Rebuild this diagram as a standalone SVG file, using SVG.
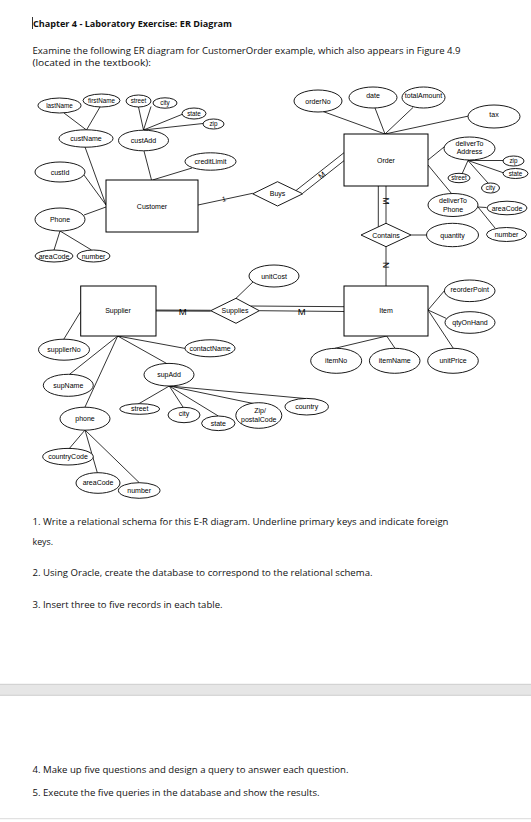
<svg xmlns="http://www.w3.org/2000/svg" width="531" height="822" viewBox="0 0 531 822">
<style>
.bg{fill:#ffffff}
.e{fill:#ffffff;stroke:#000;stroke-width:0.9}
.r{fill:#ffffff;stroke:#000;stroke-width:1}
.d{fill:#ffffff;stroke:#000;stroke-width:0.9}
.c line,.c polyline{stroke:#000;stroke-width:0.8;fill:none}
.t{font-family:"Liberation Sans",Arial,sans-serif;font-size:7px;fill:#000;text-anchor:middle}
.s{font-size:6.3px}
.m{font-family:"Liberation Sans",Arial,sans-serif;font-size:9.5px;fill:#000;text-anchor:middle}
.p{font-family:"Open Sans","Noto Sans",sans-serif;font-size:9.3px;fill:#111}
.h{font-weight:bold}
</style>
<rect class="bg" x="0" y="0" width="531" height="822"/>

<g id="page-text">
<line x1="32.5" y1="17" x2="32.5" y2="29" stroke="#000" stroke-width="0.8"/>
<text class="p h" x="33" y="26.5" textLength="199" lengthAdjust="spacingAndGlyphs">Chapter 4 - Laboratory Exercise: ER Diagram</text>
<text class="p" x="32.5" y="54" textLength="428" lengthAdjust="spacingAndGlyphs">Examine the following ER diagram for CustomerOrder example, which also appears in Figure 4.9</text>
<text class="p" x="32.5" y="66" textLength="118.5" lengthAdjust="spacingAndGlyphs">(located in the textbook):</text>
<text class="p" x="32.5" y="525" textLength="416" lengthAdjust="spacingAndGlyphs">1. Write a relational schema for this E-R diagram. Underline primary keys and indicate foreign</text>
<text class="p" x="32.5" y="545" textLength="20.5" lengthAdjust="spacingAndGlyphs">keys.</text>
<text class="p" x="32.5" y="576" textLength="340" lengthAdjust="spacingAndGlyphs">2. Using Oracle, create the database to correspond to the relational schema.</text>
<text class="p" x="32.5" y="608.3" textLength="190" lengthAdjust="spacingAndGlyphs">3. Insert three to five records in each table.</text>
<rect x="0" y="684.3" width="531" height="11" fill="#e6e6e6"/>
<line x1="0" y1="684.3" x2="531" y2="684.3" stroke="#c4c4c4" stroke-width="0.8"/>
<line x1="0" y1="695.3" x2="531" y2="695.3" stroke="#c4c4c4" stroke-width="0.8"/>
<text class="p" x="32.5" y="772.7" textLength="316" lengthAdjust="spacingAndGlyphs">4. Make up five questions and design a query to answer each question.</text>
<text class="p" x="32.5" y="796" textLength="287" lengthAdjust="spacingAndGlyphs">5. Execute the five queries in the database and show the results.</text>
<line x1="0" y1="818.7" x2="531" y2="818.7" stroke="#cfcfcf" stroke-width="0.8"/>
</g>

<g id="connectors" class="c">
<!-- Customer -->
<line x1="64" y1="113" x2="86.5" y2="130"/>
<line x1="100" y1="107" x2="86.5" y2="130"/>
<line x1="143.5" y1="130" x2="138.5" y2="107"/>
<line x1="143.5" y1="130" x2="151" y2="106.5"/>
<line x1="143.5" y1="130" x2="183" y2="114"/>
<line x1="143.5" y1="130" x2="203" y2="123.5"/>
<line x1="85" y1="147" x2="106" y2="205"/>
<line x1="84" y1="175" x2="106" y2="205"/>
<line x1="84" y1="215" x2="106" y2="207"/>
<line x1="60" y1="231" x2="54" y2="250"/>
<line x1="60" y1="231" x2="91.5" y2="250"/>
<line x1="144" y1="151" x2="151.5" y2="180"/>
<line x1="192" y1="168" x2="152.5" y2="180"/>
<!-- Customer - Buys -->
<line x1="198" y1="205" x2="252.7" y2="193.3"/>
<!-- Buys - Order (double) -->
<line x1="296" y1="190.5" x2="344" y2="152.7"/>
<line x1="302.7" y1="193.3" x2="344" y2="160.7"/>
<!-- Order attributes -->
<line x1="323" y1="111.5" x2="385" y2="134"/>
<line x1="375" y1="108" x2="385" y2="134"/>
<line x1="413" y1="107.5" x2="385" y2="134"/>
<line x1="471" y1="115.5" x2="385" y2="134"/>
<line x1="428" y1="160" x2="446.5" y2="145"/>
<line x1="468" y1="160.5" x2="503.5" y2="160.5"/>
<line x1="468" y1="160.5" x2="504" y2="173"/>
<line x1="468" y1="160.5" x2="462" y2="174"/>
<line x1="468" y1="160.5" x2="488" y2="183"/>
<line x1="428" y1="165" x2="451.5" y2="193.5"/>
<line x1="478" y1="207" x2="486.5" y2="207.5"/>
<line x1="478" y1="207" x2="495" y2="228"/>
<!-- Order - Contains (double) -->
<line x1="378.3" y1="186" x2="378.3" y2="227"/>
<line x1="386" y1="186" x2="386" y2="223.3"/>
<line x1="411" y1="235" x2="426.7" y2="235"/>
<!-- Contains - Item -->
<line x1="386" y1="246.7" x2="386" y2="286"/>
<!-- Item attributes -->
<line x1="428" y1="310" x2="445" y2="290"/>
<line x1="428" y1="310" x2="446.5" y2="318.5"/>
<line x1="428" y1="310" x2="453.3" y2="348.3"/>
<line x1="386.7" y1="336" x2="335" y2="348.3"/>
<line x1="386.7" y1="336" x2="395" y2="348.3"/>
<!-- Supplies -->
<line x1="236" y1="298.3" x2="255" y2="280"/>
<line x1="250.5" y1="306" x2="344" y2="306.7"/>
<line x1="259.3" y1="310.7" x2="344" y2="311.5"/>
<line x1="156" y1="310.5" x2="210.7" y2="310.7" style="stroke:#444;stroke-width:2"/>
<!-- Supplier attributes -->
<line x1="63.3" y1="340" x2="80.7" y2="311.5"/>
<line x1="117.7" y1="336" x2="69.3" y2="374.5"/>
<line x1="117.7" y1="336" x2="85" y2="407"/>
<line x1="117.7" y1="336" x2="166.7" y2="363.5"/>
<line x1="117.7" y1="336" x2="185.5" y2="348.5"/>
<line x1="169.3" y1="386" x2="138.3" y2="404"/>
<line x1="169.3" y1="386" x2="183.3" y2="407.5"/>
<line x1="169.3" y1="386" x2="218.3" y2="416"/>
<line x1="169.3" y1="386" x2="253.3" y2="403.5"/>
<line x1="169.3" y1="386" x2="305" y2="398.5"/>
<line x1="85" y1="430" x2="69.3" y2="448.5"/>
<line x1="85" y1="430" x2="97.3" y2="472.7"/>
<line x1="85" y1="430" x2="139.3" y2="482.7"/>
</g>

<g id="cardinalities">
<text class="t" x="224" y="201.5" transform="rotate(-12 224 199)">1</text>
<text class="t" x="322" y="178" transform="rotate(-38 322 175.5)" style="font-size:8px">M</text>
<text class="t" x="386" y="204" transform="rotate(90 386 201)" style="font-size:8.5px">M</text>
<text class="t" x="386" y="268" transform="rotate(90 386 265)" style="font-size:8.5px">N</text>
<text class="m" x="182.7" y="314.5">M</text>
<text class="m" x="301.7" y="314.5">M</text>
</g>

<g id="Customer"><rect class="r" x="106" y="180" width="92" height="52"/><text class="t" x="152" y="208.5">Customer</text></g>
<g id="lastName"><ellipse class="e" cx="59.5" cy="105.5" rx="21.5" ry="7.5"/><text class="t s" x="59.5" y="108">lastName</text></g>
<g id="firstName"><ellipse class="e" cx="101.5" cy="100.5" rx="18.5" ry="6.5"/><text class="t s" x="101.5" y="103">firstName</text></g>
<g id="custAdd-street"><ellipse class="e" cx="138.5" cy="101" rx="12.5" ry="6"/><text class="t s" x="138.5" y="103.3">street</text></g>
<g id="custAdd-city"><ellipse class="e" cx="165" cy="103" rx="12" ry="5.2"/><text class="t s" x="165" y="105.3">city</text></g>
<g id="custAdd-state"><ellipse class="e" cx="194" cy="113.5" rx="12" ry="5.5"/><text class="t s" x="194" y="115.8">state</text></g>
<g id="custAdd-zip"><ellipse class="e" cx="213.5" cy="124" rx="10.5" ry="5"/><text class="t s" x="213.5" y="126.3">zip</text></g>
<g id="custName"><ellipse class="e" cx="86" cy="138.5" rx="27" ry="8.7"/><text class="t" x="86" y="141">custName</text></g>
<g id="custAdd"><ellipse class="e" cx="143.5" cy="140.5" rx="25" ry="10.3"/><text class="t" x="143.5" y="143">custAdd</text></g>
<g id="creditLimit"><ellipse class="e" cx="210.5" cy="161.5" rx="25.5" ry="8.7"/><text class="t" x="210.5" y="164">creditLimit</text></g>
<g id="custId"><ellipse class="e" cx="60" cy="172" rx="25" ry="10"/><text class="t" x="60" y="174.5">custId</text></g>
<g id="Phone"><ellipse class="e" cx="60" cy="219.5" rx="25" ry="11.5"/><text class="t" x="60" y="222">Phone</text></g>
<g id="Phone-areaCode"><ellipse class="e" cx="54" cy="256" rx="19" ry="6"/><text class="t" x="54" y="258.5">areaCode</text></g>
<g id="Phone-number"><ellipse class="e" cx="93.5" cy="256" rx="16.5" ry="6"/><text class="t" x="93.5" y="258.5">number</text></g>

<g id="Buys"><polygon class="d" points="252.7,193.8 277.5,181.7 302.7,193.8 277.5,206"/><text class="t" x="277.5" y="196.3">Buys</text></g>

<g id="Order"><rect class="r" x="344" y="134" width="84" height="52"/><text class="t" x="386" y="162.5">Order</text></g>
<g id="orderNo"><ellipse class="e" cx="318" cy="101" rx="24" ry="11"/><text class="t" x="318" y="103.5">orderNo</text></g>
<g id="date"><ellipse class="e" cx="373" cy="97.5" rx="24" ry="10.5"/><text class="t" x="373" y="98">date</text></g>
<g id="totalAmount"><ellipse class="e" cx="423.5" cy="97.5" rx="21.5" ry="10.5"/><text class="t" x="423.5" y="98">totalAmount</text></g>
<g id="tax"><ellipse class="e" cx="494" cy="116.5" rx="26" ry="11.5"/><text class="t" x="494" y="116.5">tax</text></g>
<g id="deliverToAddress"><ellipse class="e" cx="469.5" cy="148.5" rx="25.5" ry="11.5"/><text class="t" x="469.5" y="146">deliverTo</text><text class="t" x="469.5" y="154">Address</text></g>
<g id="dta-zip"><ellipse class="e" cx="513.5" cy="161" rx="10.5" ry="5"/><text class="t s" x="513.5" y="163.3">zip</text></g>
<g id="dta-state"><ellipse class="e" cx="515.5" cy="173.5" rx="12.5" ry="5"/><text class="t s" x="515.5" y="175.8">state</text></g>
<g id="dta-street"><ellipse class="e" cx="459" cy="178" rx="11" ry="4.7"/><text class="t s" x="459" y="180.3">street</text></g>
<g id="dta-city"><ellipse class="e" cx="490.5" cy="188" rx="9" ry="5"/><text class="t s" x="490.5" y="190.3">city</text></g>
<g id="deliverToPhone"><ellipse class="e" cx="453" cy="205" rx="25" ry="11.5"/><text class="t" x="453" y="202.5">deliverTo</text><text class="t" x="453" y="211.5">Phone</text></g>
<g id="dtp-areaCode"><ellipse class="e" cx="507" cy="208" rx="20" ry="6.8"/><text class="t" x="507" y="210.5">areaCode</text></g>
<g id="dtp-number"><ellipse class="e" cx="506.5" cy="234.5" rx="20" ry="7"/><text class="t" x="506.5" y="237">number</text></g>

<g id="Contains"><polygon class="d" points="361,235 386,223.3 411,235 386,246.7"/><text class="t" x="386" y="237.5">Contains</text></g>
<g id="quantity"><ellipse class="e" cx="452.5" cy="235" rx="26" ry="11.7"/><text class="t" x="452.5" y="237.5">quantity</text></g>

<g id="Item"><rect class="r" x="344" y="286" width="84" height="50"/><text class="t" x="386" y="313">Item</text></g>
<g id="reorderPoint"><ellipse class="e" cx="469.7" cy="290.8" rx="25.3" ry="10.8"/><text class="t" x="469.7" y="291.5">reorderPoint</text></g>
<g id="qtyOnHand"><ellipse class="e" cx="470" cy="322.5" rx="25" ry="10.8"/><text class="t" x="470" y="325">qtyOnHand</text></g>
<g id="itemNo"><ellipse class="e" cx="336.2" cy="360.8" rx="25.5" ry="12.5"/><text class="t" x="336.2" y="363.3">itemNo</text></g>
<g id="itemName"><ellipse class="e" cx="394.7" cy="360.8" rx="25.3" ry="12.5"/><text class="t" x="394.7" y="363.3">itemName</text></g>
<g id="unitPrice"><ellipse class="e" cx="453" cy="360.8" rx="25.3" ry="12.5"/><text class="t" x="453" y="363.3">unitPrice</text></g>

<g id="Supplies"><polygon class="d" points="210.7,310.7 236,298.3 259.3,310.7 236,323.3"/><text class="t" x="235" y="313.2">Supplies</text></g>
<g id="unitCost"><ellipse class="e" cx="274" cy="276" rx="25" ry="11"/><text class="t" x="274" y="278.5">unitCost</text></g>

<g id="Supplier"><rect class="r" x="80.7" y="286" width="75.3" height="50"/><text class="t" x="118" y="312.5">Supplier</text></g>
<g id="supplierNo"><ellipse class="e" cx="64" cy="349.7" rx="25.5" ry="10.5"/><text class="t" x="64" y="352.2">supplierNo</text></g>
<g id="supName"><ellipse class="e" cx="68.3" cy="385.3" rx="25" ry="11"/><text class="t" x="68.3" y="387.8">supName</text></g>
<g id="contactName"><ellipse class="e" cx="210" cy="348.3" rx="25" ry="8.5"/><text class="t" x="210" y="350.8">contactName</text></g>
<g id="supAdd"><ellipse class="e" cx="169" cy="374.7" rx="25" ry="11.3"/><text class="t" x="169" y="377.2">supAdd</text></g>
<g id="sup-street"><ellipse class="e" cx="139.7" cy="409" rx="20" ry="5.3"/><text class="t" x="139.7" y="411">street</text></g>
<g id="sup-city"><ellipse class="e" cx="184" cy="415" rx="16" ry="7.7"/><text class="t" x="184" y="416">city</text></g>
<g id="sup-state"><ellipse class="e" cx="218.3" cy="423.3" rx="16.7" ry="7.3"/><text class="t" x="218.3" y="425.8">state</text></g>
<g id="sup-zip"><ellipse class="e" cx="258.8" cy="415.5" rx="23" ry="12.8"/><text class="t" x="260" y="413.3">Zip/</text><text class="t" x="258.8" y="421.7">postalCode</text></g>
<g id="sup-country"><ellipse class="e" cx="306.7" cy="406.7" rx="21.7" ry="8.3"/><text class="t" x="306.7" y="408.5">country</text></g>
<g id="sup-phone"><ellipse class="e" cx="85" cy="418.7" rx="25" ry="11.5"/><text class="t" x="85" y="421.2">phone</text></g>
<g id="countryCode"><ellipse class="e" cx="68" cy="456.7" rx="25.3" ry="8.3"/><text class="t" x="68" y="459.2">countryCode</text></g>
<g id="sup-areaCode"><ellipse class="e" cx="98" cy="483" rx="22" ry="10.3"/><text class="t" x="98" y="484.5">areaCode</text></g>
<g id="sup-number"><ellipse class="e" cx="139.2" cy="490.5" rx="20.8" ry="7.8"/><text class="t" x="139.2" y="493">number</text></g>
</svg>
